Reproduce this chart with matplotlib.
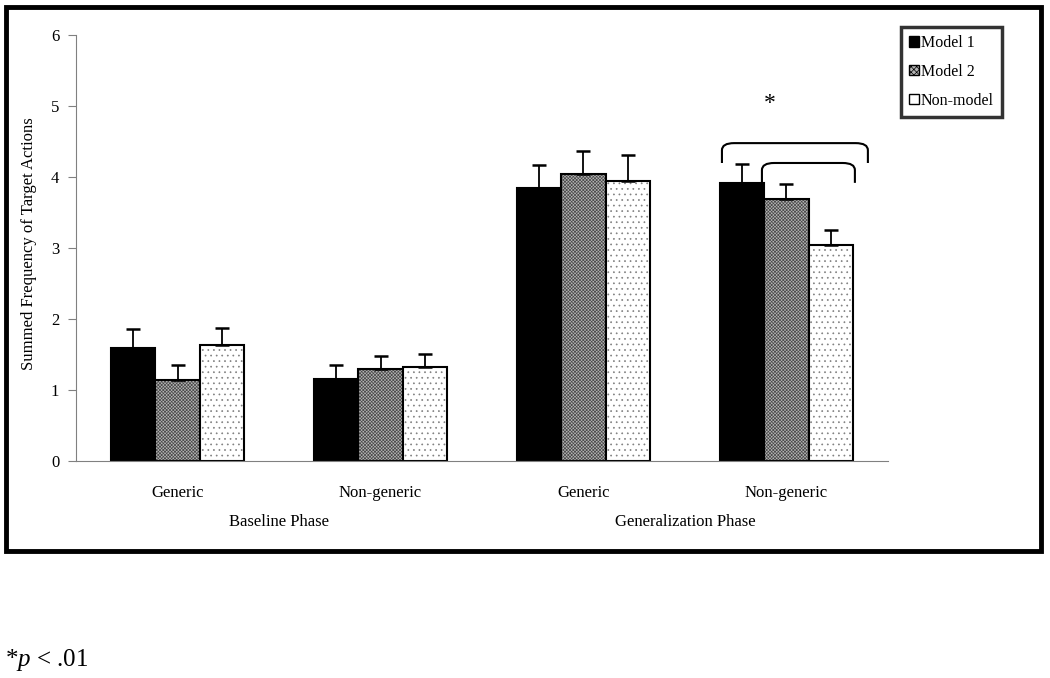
import matplotlib.pyplot as plt
import numpy as np
from matplotlib.colors import to_rgba
from matplotlib.patches import Rectangle, Patch, PathPatch
from matplotlib.path import Path

plt.rcParams["font.family"] = ["Liberation Serif", "DejaVu Serif"]
plt.rcParams["mathtext.fontset"] = "custom"
plt.rcParams["mathtext.rm"] = "Liberation Serif"
plt.rcParams["mathtext.it"] = "Liberation Serif:italic"
plt.rcParams["hatch.linewidth"] = 0.5

# data
categories = ["Generic", "Non-generic", "Generic", "Non-generic"]
phases = ["Baseline Phase", "Generalization Phase"]
series = ["Model 1", "Model 2", "Non-model"]
model1 = [1.59, 1.16, 3.85, 3.92]
model2 = [1.14, 1.29, 4.05, 3.69]
nonmodel = [1.63, 1.33, 3.95, 3.04]
model1_err = [0.27, 0.19, 0.32, 0.26]
model2_err = [0.21, 0.19, 0.32, 0.22]
nonmodel_err = [0.24, 0.18, 0.36, 0.21]

values = [model1, model2, nonmodel]
errors = [model1_err, model2_err, nonmodel_err]
faces = ["black", "#b4b4b4", "white"]
hatches = [None, "xxxxxxxxxx", "..."]
hatch_colors = ["black", "#4a4a4a", "#808080"]

fig = plt.figure(figsize=(10.5, 6.78), dpi=100)
ax = fig.add_axes([0.0724, 0.320, 0.7733, 0.628])

x = np.arange(len(categories))
w = 0.217
for i in range(3):
    xs = x + (i - 1) * w
    bars = ax.bar(xs, values[i], width=w, color=faces[i], edgecolor="black",
                  linewidth=1.5, hatch=hatches[i], zorder=2)
    for b in bars:
        b._hatch_color = to_rgba(hatch_colors[i])
    ax.errorbar(xs, values[i], yerr=[np.zeros(4), errors[i]], fmt="none",
                ecolor="black", elinewidth=1.3, capsize=5, capthick=1.8, zorder=3)

ax.set_xlim(-0.5, 3.5)
ax.set_ylim(0, 6)
ax.set_yticks(range(7))
ax.set_xticks(x)
ax.set_xticklabels(categories)
ax.tick_params(axis="x", length=0, pad=17, labelsize=12)
ax.tick_params(axis="y", length=6, color="#808080", labelsize=12, pad=6)
ax.set_ylabel("Summed Frequency of Target Actions", fontsize=12)
ax.yaxis.set_label_coords(-0.048, 0.51)
for s in ["top", "right"]:
    ax.spines[s].set_visible(False)
for s in ["left", "bottom"]:
    ax.spines[s].set_color("#808080")

ax.text(0.5, -0.143, phases[0], transform=ax.get_xaxis_transform(),
        ha="center", va="center", fontsize=12)
ax.text(2.5, -0.143, phases[1], transform=ax.get_xaxis_transform(),
        ha="center", va="center", fontsize=12)


def bracket(x0, x1, y_end, y_top, r=0.06):
    verts = [(x0, y_end), (x0, y_top - 0.1), (x0, y_top), (x0 + r, y_top),
             (x1 - r, y_top), (x1, y_top), (x1, y_top - 0.1), (x1, y_end)]
    codes = [Path.MOVETO, Path.LINETO, Path.CURVE3, Path.CURVE3,
             Path.LINETO, Path.CURVE3, Path.CURVE3, Path.LINETO]
    ax.add_patch(PathPatch(Path(verts, codes), fill=False, lw=1.5,
                           edgecolor="black", zorder=4))


bracket(2.682, 3.401, 4.20, 4.48)
bracket(2.879, 3.337, 3.92, 4.20)
ax.text(2.92, 5.04, "*", ha="center", va="center", fontsize=17)

handles = [Patch(facecolor=faces[i], edgecolor="black",
                 hatch=[None, "xxxxxx", None][i]) for i in range(3)]
leg = fig.legend(handles, series, loc="upper left",
                 bbox_to_anchor=(901 / 1050, 1 - 27 / 678), fontsize=11.5,
                 frameon=True, fancybox=False, handlelength=0.65,
                 handleheight=0.65, handletextpad=0.1, labelspacing=0.8,
                 borderpad=0.5, borderaxespad=0)
leg.get_frame().set_edgecolor("black")
leg.get_frame().set_linewidth(2.5)

fig.patches.append(Rectangle((6 / 1050, 1 - 551 / 678), 1035 / 1050, 544 / 678,
                             transform=fig.transFigure, fill=False,
                             edgecolor="black", linewidth=3.5))

fig.text(5 / 1050, 1 - 660 / 678, "*$p$ < .01", fontsize=18,
         ha="left", va="center")

fig.savefig("out.png", dpi=100)
